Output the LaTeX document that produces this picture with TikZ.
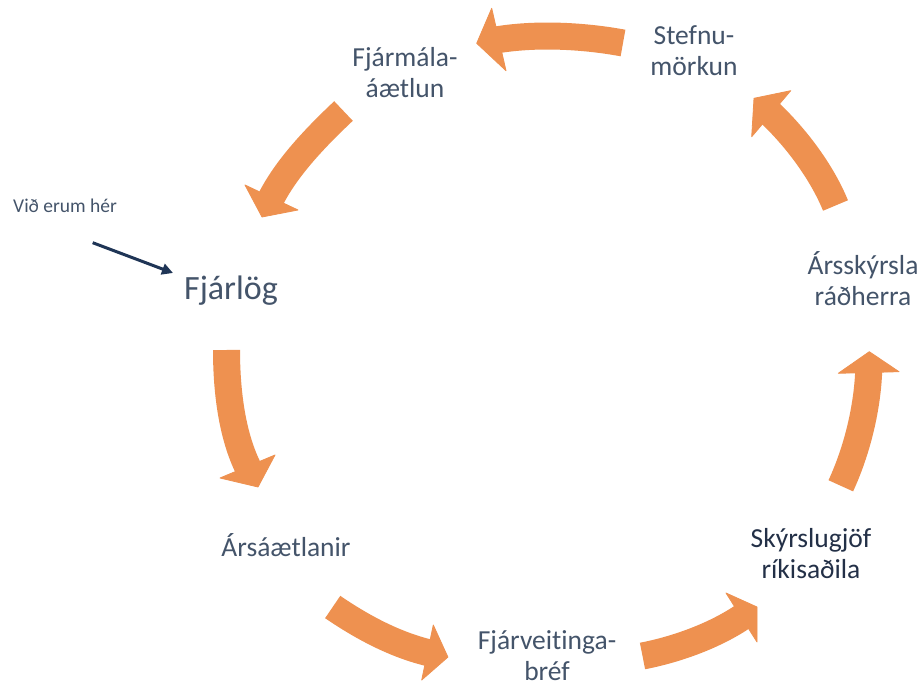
\documentclass[tikz,border=0pt]{standalone}
\usepackage{fontspec}
\setmainfont{Carlito}[Ligatures={NoCommon}]
\usetikzlibrary{arrows.meta}
\definecolor{labc}{HTML}{44546A}
\definecolor{darkc}{HTML}{233047}
\definecolor{navyc}{HTML}{1F3556}
\definecolor{orng}{HTML}{EE9150}
\tikzset{
  lab/.style={inner sep=0pt, align=center, text=labc, font=\fontsize{27.5}{31}\selectfont},
  shaft/.style={draw=orng, line width=27pt, line cap=butt},
  headtri/.style={fill=orng, draw=orng, line width=0.8pt, line join=round},
}
\begin{document}
\begin{tikzpicture}[x=1pt,y=-1pt]
\useasboundingbox[fill=white] (0,0) rectangle (924,687);

% labels
\node[lab] (stefnu) at (694,51) {Stefnu-\\mörkun};
\node[lab] (fjarmala) at (405,72.5) {Fjármála-\\áætlun};
\node[lab, font=\fontsize{34}{39}\selectfont, anchor=base] (fjarlog) at (231,299) {Fjárlög};
\node[lab, font=\fontsize{19.5}{23}\selectfont, anchor=base west] (vid) at (13,213) {Við erum hér};
\node[lab, anchor=base] (arsaetl) at (286,556.5) {Ársáætlanir};
\node[lab] (fjarveit) at (547,656) {Fjárveitinga-\\bréf};
\node[lab, text=darkc] (skyrsl) at (811,554) {Skýrslugjöf\\ríkisaðila};
\node[lab] (arsskyr) at (863,278.5) {Ársskýrsla\\ráðherra};

% "Við erum hér" pointer
\coordinate (vidA) at (92.7,242.7);
\coordinate (vidB) at (173,273);
\draw[navyc, line width=3pt, -{Triangle[length=11pt,width=11pt]}] (vidA) -- (vidB);

% arrow 1 : Stefnumörkun -> Fjármálaáætlun
\coordinate (t1) at (623,43);  \coordinate (b1) at (494.9,40.2);
\draw[shaft] (t1) .. controls (582.8,35.6) and (535.1,33.2) .. (b1);
\fill[headtri] (491.7,8.3) -- (476.7,43.3) -- (506,70.7) -- cycle;

% arrow 2 : Ársskýrsla -> Stefnumörkun
\coordinate (t2) at (835.5,205.5);  \coordinate (b2) at (768.1,111.3);
\draw[shaft] (t2) .. controls (821.4,171.1) and (795.1,136.5) .. (b2);
\fill[headtri] (790.7,90.7) -- (754,98.3) -- (751.7,136.7) -- cycle;

% arrow 3 : Skýrslugjöf -> Ársskýrsla
\coordinate (t3) at (840.8,485.8);  \coordinate (b3) at (868.8,368.5);
\draw[shaft] (t3) .. controls (857.2,450.3) and (867.6,407.5) .. (b3);
\fill[headtri] (838.3,373.3) -- (869.3,351.7) -- (899,371.7) -- cycle;

% arrow 4 : Fjárveitingabréf -> Skýrslugjöf
\coordinate (t4) at (642.5,656);  \coordinate (b4) at (744.8,615.2);
\draw[shaft] (t4) .. controls (676.8,649.4) and (716.1,635.2) .. (b4);
\fill[headtri] (726,593) -- (757,607) -- (757,642) -- cycle;

% arrow 5 : Ársáætlanir -> Fjárveitingabréf
\coordinate (t5) at (332.7,607);  \coordinate (b5) at (431.4,653.4);
\draw[shaft] (t5) .. controls (362.6,627.5) and (396.5,645.5) .. (b5);
\fill[headtri] (433.3,625) -- (447.9,657.1) -- (421.7,680) -- cycle;

% arrow 6 : Fjárlög -> Ársáætlanir
\coordinate (t6) at (226.5,350);  \coordinate (b6) at (249.3,470.1);
\draw[shaft] (t6) .. controls (226.5,389) and (231.4,435.4) .. (b6);
\fill[headtri] (275,455) -- (258,487) -- (220,478) -- cycle;

% arrow 7 : Fjármálaáætlun -> Fjárlög
\coordinate (t7) at (343.5,111);  \coordinate (b7) at (269.7,201.1);
\draw[shaft] (t7) .. controls (316.5,136.5) and (286,167.8) .. (b7);
\fill[headtri] (298,210) -- (262,217) -- (245,185) -- cycle;
\end{tikzpicture}
\end{document}
